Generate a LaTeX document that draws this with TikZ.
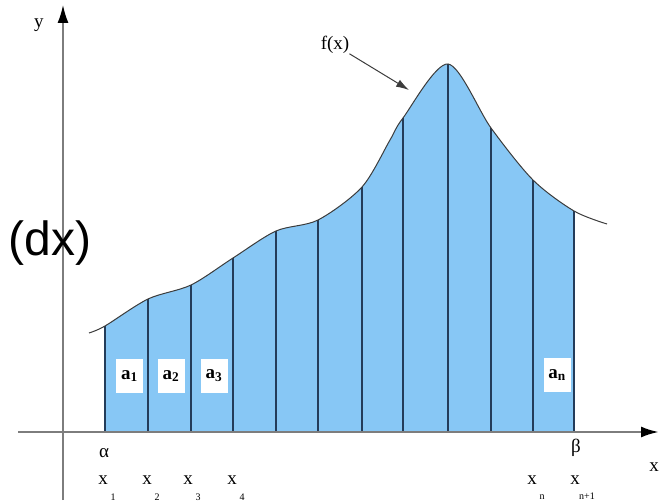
\documentclass[tikz,border=0pt]{standalone}
\usepackage{fontspec}
\setmainfont{Liberation Serif}
\newfontfamily\dxfont{Liberation Sans}
\usetikzlibrary{arrows.meta}
\definecolor{stripfill}{RGB}{135,199,245}
\definecolor{stripline}{RGB}{35,60,90}
\definecolor{axisgray}{RGB}{125,125,125}
\definecolor{curvegray}{RGB}{60,60,60}
\begin{document}
\begin{tikzpicture}[x=1pt,y=-1pt,
  lbl/.style={inner sep=0pt, font=\fontsize{19}{19}\selectfont},
  sublbl/.style={inner sep=0pt, font=\fontsize{10}{10}\selectfont},
  abox/.style={fill=white, minimum width=27pt, minimum height=34pt, inner sep=0pt, font=\bfseries\fontsize{19}{19}\selectfont},
  strip/.style={stripline, line width=1.2pt},
  axisline/.style={axisgray, -{Latex[black,length=18pt,width=11pt]}}]
\useasboundingbox (0,0) rectangle (669,502);
% fill under the curve
\begin{scope}
\clip (105,0) rectangle (574,432);
\fill[stripfill] plot[smooth] coordinates {(89,333) (105,326) (148,299) (191,285) (233,258) (276,231) (318,220) (362,187) (390,140) (403,118) (448,64) (491,128) (533,180) (574,211) (607,224)} -- (607,432) -- (89,432) -- cycle;
\end{scope}
% strip lines
\foreach \x/\y in {105/326,148/299,191/285,233/258,276/231,318/220,362/187,403/118,448/64,491/128,533/180,574/211}
  \draw[strip] (\x,432) -- (\x,\y);
% curve
\draw[curvegray, line width=1pt] plot[smooth] coordinates {(89,333) (105,326) (148,299) (191,285) (233,258) (276,231) (318,220) (362,187) (390,140) (403,118) (448,64) (491,128) (533,180) (574,211) (607,224)};
% axes
\coordinate (xstart) at (18,432);
\coordinate (xend) at (659,432);
\coordinate (ystart) at (63,500);
\coordinate (yend) at (63,5);
\draw[axisline, line width=2.5pt] (xstart) -- (xend);
\draw[axisline, line width=1.6pt] (ystart) -- (yend);
% area boxes
\node[abox] (a1) at (129.5,376) {a\textsubscript{1}};
\node[abox] (a2) at (171,376) {a\textsubscript{2}};
\node[abox] (a3) at (214,376) {a\textsubscript{3}};
\node[abox] (an) at (557,375) {a\textsubscript{n}};
% f(x) label and arrow
\node[lbl] (fx) at (335,45) {f(x)};
\coordinate (fxtip) at (409,90);
\draw[curvegray, line width=1pt, -{Latex[length=13pt,width=8pt]}] (fx) -- (fxtip);
% axis labels
\node[lbl] (ylab) at (39,25) {y};
\node[lbl] (xlab) at (654,467) {x};
\node[lbl] (alpha) at (104,453) {α};
\node[lbl] (beta) at (576,448) {β};
% x_i labels
\node[lbl] (x1) at (103,480) {x};
\node[sublbl] (s1) at (113,497) {1};
\node[lbl] (x2) at (147,480) {x};
\node[sublbl] (s2) at (157,497) {2};
\node[lbl] (x3) at (188,480) {x};
\node[sublbl] (s3) at (198,497) {3};
\node[lbl] (x4) at (232,480) {x};
\node[sublbl] (s4) at (242,497) {4};
\node[lbl] (xn) at (532,480) {x};
\node[sublbl] (sn) at (542,497) {n};
\node[lbl] (xn1) at (575,480) {x};
\node[sublbl] (sn1) at (587,496) {n+1};
% (dx)
\node[inner sep=0pt, font=\dxfont\fontsize{48}{48}\selectfont] (dx) at (50,243) {(dx)};
\end{tikzpicture}
\end{document}
